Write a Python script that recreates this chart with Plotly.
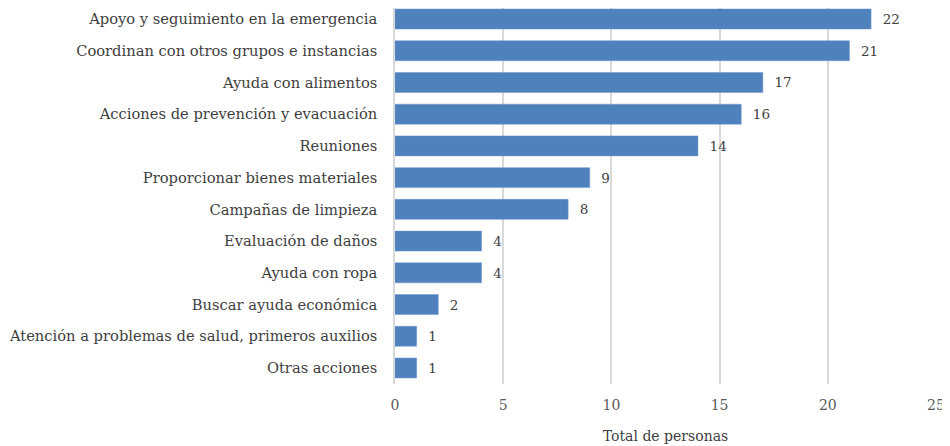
import plotly.graph_objects as go

categories = [
    "Apoyo y seguimiento en la emergencia",
    "Coordinan con otros grupos e instancias",
    "Ayuda con alimentos",
    "Acciones de prevención y evacuación",
    "Reuniones",
    "Proporcionar bienes materiales",
    "Campañas de limpieza",
    "Evaluación de daños",
    "Ayuda con ropa",
    "Buscar ayuda económica",
    "Atención a problemas de salud, primeros auxilios",
    "Otras acciones",
]
values = [22, 21, 17, 16, 14, 9, 8, 4, 4, 2, 1, 1]
x_ticks = [0, 5, 10, 15, 20, 25]

FONT = "DejaVu Serif"
fig = go.Figure(go.Bar(
    y=categories, x=values, orientation="h",
    marker=dict(color="#4F81BD", line=dict(color="#6F97CC", width=0.5)),
    width=0.63,
    texttemplate="  %{x}", textposition="outside",
    textfont=dict(family=FONT, size=13.5, color="#404040"),
    cliponaxis=False,
))
fig.update_layout(
    width=942, height=438,
    margin=dict(l=387, r=14, t=0, b=62),
    plot_bgcolor="white", paper_bgcolor="white",
    showlegend=False,
    font=dict(family=FONT, size=14, color="#404040"),
    xaxis=dict(range=[0, 25], tickvals=x_ticks, showgrid=True, gridcolor="#D9D9D9", gridwidth=1.5,
               zeroline=False, showline=False, ticks="outside", ticklen=8, tickcolor="white",
               automargin=False,
               title=dict(text="Total de personas", font=dict(family=FONT, size=14, color="#404040"), standoff=19),
               tickfont=dict(family=FONT, size=14, color="#595959")),
    yaxis=dict(categoryorder="array", categoryarray=categories[::-1], showgrid=False,
               range=[-0.505, 11.347],
               showline=True, linecolor="#D9D9D9", linewidth=1.5, ticks="outside", ticklen=13,
               tickcolor="white", automargin=False,
               tickfont=dict(family=FONT, size=14.7, color="#404040")),
)
fig.write_html("out.html")
